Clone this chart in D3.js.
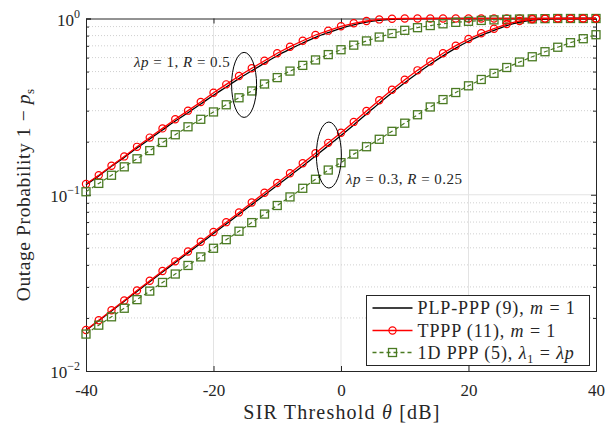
<!DOCTYPE html>
<html>
<head>
<meta charset="utf-8">
<script src="https://cdn.jsdelivr.net/npm/d3@7/dist/d3.min.js"></script>
<style>
  body { margin: 0; background: #fff; }
  svg { display: block; }
  text { font-family: "Liberation Serif", "Times New Roman", serif; fill: #262626; }
</style>
</head>
<body>
<svg id="chart" width="613" height="428"></svg>
<script>
// SIR threshold grid [dB]
const thetaDb = [-40,-38,-36,-34,-32,-30,-28,-26,-24,-22,-20,-18,-16,-14,-12,-10,-8,-6,-4,-2,
                 0,2,4,6,8,10,12,14,16,18,20,22,24,26,28,30,32,34,36,38,40];

// lambda*p = 1, R = 0.5
const plpA   = [0.114,0.128,0.145,0.163,0.184,0.207,0.233,0.262,0.292,0.327,0.367,0.409,0.456,0.505,0.558,0.615,0.670,0.726,0.782,0.832,
                0.880,0.921,0.953,0.976,0.990,0.997,0.999,1,1,1,1,1,1,1,1,1,1,1,1,1,1];
const tpppA  = [0.115,0.129,0.146,0.165,0.187,0.211,0.238,0.268,0.300,0.336,0.379,0.423,0.472,0.522,0.576,0.635,0.692,0.748,0.806,0.853,
                0.903,0.939,0.968,0.988,0.997,1,1,1,1,1,1,1,1,1,1,1,1,1,1,1,1];
const ppp1dA = [0.104,0.116,0.129,0.144,0.160,0.178,0.198,0.219,0.243,0.268,0.295,0.324,0.355,0.388,0.425,0.462,0.503,0.542,0.582,0.624,
                0.665,0.706,0.746,0.785,0.822,0.857,0.887,0.912,0.933,0.951,0.964,0.975,0.982,0.989,0.993,0.995,0.998,1,1,1,1];

// lambda*p = 0.3, R = 0.25
const plpB   = [0.0170,0.0193,0.0219,0.0249,0.0283,0.0321,0.0364,0.0413,0.0468,0.0531,0.0602,0.0683,0.0775,0.0879,0.0997,0.1131,0.1283,0.1457,0.166,0.190,
                0.217,0.249,0.287,0.331,0.379,0.432,0.489,0.550,0.614,0.679,0.743,0.802,0.857,0.912,0.953,0.980,0.993,0.998,1,1,1];
const tpppB  = [0.0171,0.0194,0.0221,0.0251,0.0286,0.0325,0.0369,0.0419,0.0476,0.0541,0.0615,0.0699,0.0794,0.0903,0.1026,0.1166,0.1325,0.1508,0.172,0.197,
                0.225,0.259,0.2985,0.344,0.394,0.449,0.508,0.570,0.635,0.701,0.765,0.824,0.875,0.930,0.968,0.990,0.998,1,1,1,1];
const ppp1dB = [0.0162,0.0182,0.0203,0.0227,0.0254,0.0284,0.0318,0.0355,0.0397,0.0444,0.0497,0.0556,0.0621,0.0695,0.0777,0.0869,0.0972,0.1088,0.1224,0.1381,
                0.152,0.170,0.1873,0.2064,0.229,0.2547,0.2844,0.3148,0.3467,0.3802,0.415,0.4508,0.4887,0.5272,0.5662,0.6067,0.648,0.687,0.729,0.768,0.809];

const xTicks = [-40,-20,0,20,40];
const yMajor = [0.01,0.1,1];
const yMajorExp = ["-2","-1","0"];
const yMinor = [0.02,0.03,0.04,0.05,0.06,0.07,0.08,0.09,0.2,0.3,0.4,0.5,0.6,0.7,0.8,0.9];

const legendLabels = [
  [{t:"PLP-PPP (9), "},{t:"m",i:true},{t:" = 1"}],
  [{t:"TPPP (11), "},{t:"m",i:true},{t:" = 1"}],
  [{t:"1D PPP (5), "},{t:"λ",i:true},{t:"1",sub:true},{t:" = ", up:true},{t:"λp",i:true}]
];

const red = "#ff0000", green = "#4a7a22", black = "#000000", axisCol = "#262626";

const svg = d3.select("#chart");
const L = 86, R = 596, T = 18.5, B = 371;
const x = d3.scaleLinear().domain([-40, 40]).range([L, R]);
const y = d3.scaleLog().domain([0.01, 1]).range([B, T]);

// grid
const grid = svg.append("g");
grid.selectAll(".gx").data(xTicks.slice(1, -1)).join("line")
  .attr("x1", d => x(d)).attr("x2", d => x(d)).attr("y1", T).attr("y2", B)
  .attr("stroke", "#e3e3e3").attr("stroke-width", 1);
grid.selectAll(".gy").data(yMajor.slice(1, -1)).join("line")
  .attr("x1", L).attr("x2", R).attr("y1", d => y(d)).attr("y2", d => y(d))
  .attr("stroke", "#e3e3e3").attr("stroke-width", 1);
grid.selectAll(".gm").data(yMinor).join("line")
  .attr("x1", L).attr("x2", R).attr("y1", d => y(d)).attr("y2", d => y(d))
  .attr("stroke", "#c4c4c4").attr("stroke-width", 0.8).attr("stroke-dasharray", "1,2");

// axes (ticks pointing inward, box on)
const axG = svg.append("g");
axG.append("g").attr("transform", `translate(0,${B})`)
  .call(d3.axisBottom(x).tickValues(xTicks).tickSize(-5).tickFormat(d => d))
  .call(g => { g.select(".domain").attr("stroke", axisCol);
               g.selectAll(".tick line").attr("stroke", axisCol);
               g.selectAll(".tick text").attr("y", 8).attr("dy", "1em").style("font-size", "17px").attr("fill", axisCol); });
axG.append("g").attr("transform", `translate(0,${T})`)
  .call(d3.axisTop(x).tickValues(xTicks).tickSize(-5).tickFormat(""))
  .call(g => { g.select(".domain").attr("stroke", axisCol);
               g.selectAll(".tick line").attr("stroke", axisCol); });
axG.append("g").attr("transform", `translate(${L},0)`)
  .call(d3.axisLeft(y).tickValues(yMajor).tickSize(-5).tickFormat(""))
  .call(g => { g.select(".domain").attr("stroke", axisCol);
               g.selectAll(".tick line").attr("stroke", axisCol); });
axG.append("g").attr("transform", `translate(${R},0)`)
  .call(d3.axisRight(y).tickValues(yMajor).tickSize(-5).tickFormat(""))
  .call(g => { g.select(".domain").attr("stroke", axisCol);
               g.selectAll(".tick line").attr("stroke", axisCol); });
axG.append("g").attr("transform", `translate(${L},0)`)
  .call(d3.axisLeft(y).tickValues(yMinor).tickSize(-3).tickFormat(""))
  .call(g => { g.select(".domain").remove(); g.selectAll(".tick line").attr("stroke", axisCol); });
axG.append("g").attr("transform", `translate(${R},0)`)
  .call(d3.axisRight(y).tickValues(yMinor).tickSize(-3).tickFormat(""))
  .call(g => { g.select(".domain").remove(); g.selectAll(".tick line").attr("stroke", axisCol); });

// y tick labels 10^k
const yl = svg.append("g").selectAll("text").data(yMajor).join("text")
  .attr("x", L - 6).attr("y", d => y(d) + 7).attr("text-anchor", "end")
  .style("font-size", "17px");
yl.append("tspan").text("10");
yl.append("tspan").attr("dy", -8).style("font-size", "12px").text((d, i) => yMajorExp[i].replace("-", "−"));

// axis titles
const xt = svg.append("text").attr("x", (L + R) / 2 + 1).attr("y", 419).attr("text-anchor", "middle")
  .style("font-size", "20px").style("letter-spacing", "1.2px");
xt.append("tspan").text("SIR Threshold ");
xt.append("tspan").style("font-style", "italic").text("θ");
xt.append("tspan").text(" [dB]");

const yt = svg.append("text").attr("transform", `translate(30,${(T + B) / 2}) rotate(-90)`)
  .attr("text-anchor", "middle").style("font-size", "19.5px").style("letter-spacing", "0.6px");
yt.append("tspan").text("Outage Probability 1 − ");
yt.append("tspan").style("font-style", "italic").text("p");
yt.append("tspan").attr("dy", 4).style("font-size", "13px").text("s");

// curves
const lineSmooth = d3.line().x(d => x(d[0])).y(d => y(d[1])).curve(d3.curveMonotoneX);
const lineStraight = d3.line().x(d => x(d[0])).y(d => y(d[1]));
const pairs = arr => thetaDb.map((t, i) => [t, arr[i]]);
const plot = svg.append("g");

function drawPLP(arr) {
  plot.append("path").attr("d", lineSmooth(pairs(arr)))
    .attr("fill", "none").attr("stroke", black).attr("stroke-width", 1.3);
}
function drawTPPP(arr) {
  plot.append("path").attr("d", lineStraight(pairs(arr)))
    .attr("fill", "none").attr("stroke", red).attr("stroke-width", 1.3);
  plot.append("g").selectAll("circle").data(pairs(arr)).join("circle")
    .attr("cx", d => x(d[0])).attr("cy", d => y(d[1])).attr("r", 3.6)
    .attr("fill", "none").attr("stroke", red).attr("stroke-width", 1.2);
}
function drawPPP1d(arr) {
  plot.append("path").attr("d", lineStraight(pairs(arr)))
    .attr("fill", "none").attr("stroke", green).attr("stroke-width", 1.2).attr("stroke-dasharray", "4,3");
  plot.append("g").selectAll("rect").data(pairs(arr)).join("rect")
    .attr("x", d => x(d[0]) - 4).attr("y", d => y(d[1]) - 4).attr("width", 8).attr("height", 8)
    .attr("fill", "none").attr("stroke", green).attr("stroke-width", 1.3);
}
drawPLP(plpA); drawTPPP(tpppA); drawPPP1d(ppp1dA);
drawPLP(plpB); drawTPPP(tpppB); drawPPP1d(ppp1dB);

// annotations
const ann = svg.append("g");
ann.append("ellipse").attr("cx", x(-15.2)).attr("cy", y(0.42)).attr("rx", 12.5).attr("ry", 32.5)
  .attr("fill", "none").attr("stroke", black).attr("stroke-width", 1);
ann.append("ellipse").attr("cx", x(-1.9)).attr("cy", y(0.168)).attr("rx", 12.5).attr("ry", 33)
  .attr("fill", "none").attr("stroke", black).attr("stroke-width", 1);

function mathLabel(px, py, parts) {
  const t = ann.append("text").attr("x", px).attr("y", py).style("font-size", "15px").style("letter-spacing", "0.5px");
  parts.forEach(p => t.append("tspan").style("font-style", p.i ? "italic" : "normal").text(p.t));
}
mathLabel(134, 67, [{t:"λp",i:true},{t:" = 1, "},{t:"R",i:true},{t:" = 0.5"}]);
mathLabel(346, 184, [{t:"λp",i:true},{t:" = 0.3, "},{t:"R",i:true},{t:" = 0.25"}]);

// legend
const lg = svg.append("g").attr("transform", "translate(366.5,295.5)");
lg.append("rect").attr("width", 223).attr("height", 70).attr("fill", "#fff").attr("stroke", axisCol).attr("stroke-width", 1);
const rowsY = [12.5, 35, 57];
legendLabels.forEach((parts, i) => {
  const ry = rowsY[i];
  const g = lg.append("g");
  const col = [black, red, green][i];
  const ln = g.append("line").attr("x1", 6).attr("x2", 46).attr("y1", ry).attr("y2", ry)
    .attr("stroke", col).attr("stroke-width", 1.3);
  if (i === 1) g.append("circle").attr("cx", 26).attr("cy", ry).attr("r", 3.6).attr("fill", "none").attr("stroke", red).attr("stroke-width", 1.2);
  if (i === 2) {
    ln.attr("stroke-dasharray", "4,3");
    g.append("rect").attr("x", 22).attr("y", ry - 4).attr("width", 8).attr("height", 8).attr("fill", "none").attr("stroke", green).attr("stroke-width", 1.3);
  }
  const t = g.append("text").attr("x", 51).attr("y", ry + 6).style("font-size", "18px").style("letter-spacing", "0.9px");
  parts.forEach(p => {
    const s = t.append("tspan").style("font-style", p.i ? "italic" : "normal").text(p.t);
    if (p.sub) s.attr("dy", 4).style("font-size", "12px");
    if (p.up) s.attr("dy", -4);
  });
});
</script>
</body>
</html>
